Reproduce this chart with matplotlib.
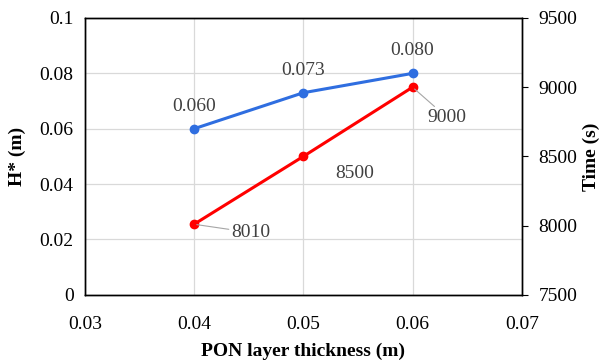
import matplotlib.pyplot as plt

plt.rcParams["font.family"] = ["Liberation Serif", "DejaVu Serif"]

# Daten
thickness = [0.04, 0.05, 0.06]
h_star = [0.060, 0.073, 0.080]
time_s = [8010, 8500, 9000]
h_labels = ["0.060", "0.073", "0.080"]
t_labels = ["8010", "8500", "9000"]

blue = "#2f6ee0"
red = "#ff0000"
txt = "#404040"

fig, ax = plt.subplots(figsize=(6.06, 3.6), dpi=100)
fig.subplots_adjust(left=0.140, right=0.861, top=0.95, bottom=0.181)
ax2 = ax.twinx()

ax.plot(thickness, h_star, color=blue, marker="o", markersize=6, linewidth=2.2, zorder=3)
ax2.plot(thickness, time_s, color=red, marker="o", markersize=6, linewidth=2.2, zorder=3)

# Datenbeschriftungen
for x, y, s in zip(thickness, h_star, h_labels):
    ax.annotate(s, (x, y), xytext=(0, 10), textcoords="offset points",
                ha="center", va="bottom", fontsize=14, color=txt)

t_offsets = [(27, -6), (23, -12), (11, -22)]
t_leader = [True, False, True]
for x, y, s, off, lead in zip(thickness, time_s, t_labels, t_offsets, t_leader):
    ax2.annotate(s, (x, y), xytext=off, textcoords="offset points",
                 ha="left", va="center", fontsize=14, color=txt,
                 arrowprops=dict(arrowstyle="-", color="#a6a6a6", lw=0.8,
                                 shrinkA=0, shrinkB=2) if lead else None)

ax.set_xlim(0.03, 0.07)
ax.set_ylim(0, 0.1)
ax2.set_ylim(7500, 9500)
ax.set_xticks([0.03, 0.04, 0.05, 0.06, 0.07])
ax.set_xticklabels(["0.03", "0.04", "0.05", "0.06", "0.07"])
ax.set_yticks([0, 0.02, 0.04, 0.06, 0.08, 0.1])
ax.set_yticklabels(["0", "0.02", "0.04", "0.06", "0.08", "0.1"])
ax2.set_yticks([7500, 8000, 8500, 9000, 9500])

ax.grid(True, color="#d9d9d9", linewidth=0.9)
ax.set_axisbelow(True)

for a in (ax, ax2):
    a.tick_params(labelsize=14, length=0, pad=8, colors="black")
    for sp in a.spines.values():
        sp.set_color("black")
        sp.set_linewidth(1.0)
ax2.tick_params(axis="y", length=4, direction="out")
ax.tick_params(axis="x", length=0, pad=15)

ax.set_xlabel("PON layer thickness (m)", fontsize=14, fontweight="bold", labelpad=7)
ax.set_ylabel("H* (m)", fontsize=14, fontweight="bold", labelpad=10)
ax2.set_ylabel("Time (s)", fontsize=14, fontweight="bold", labelpad=4)

plt.savefig("out.png", dpi=100)
